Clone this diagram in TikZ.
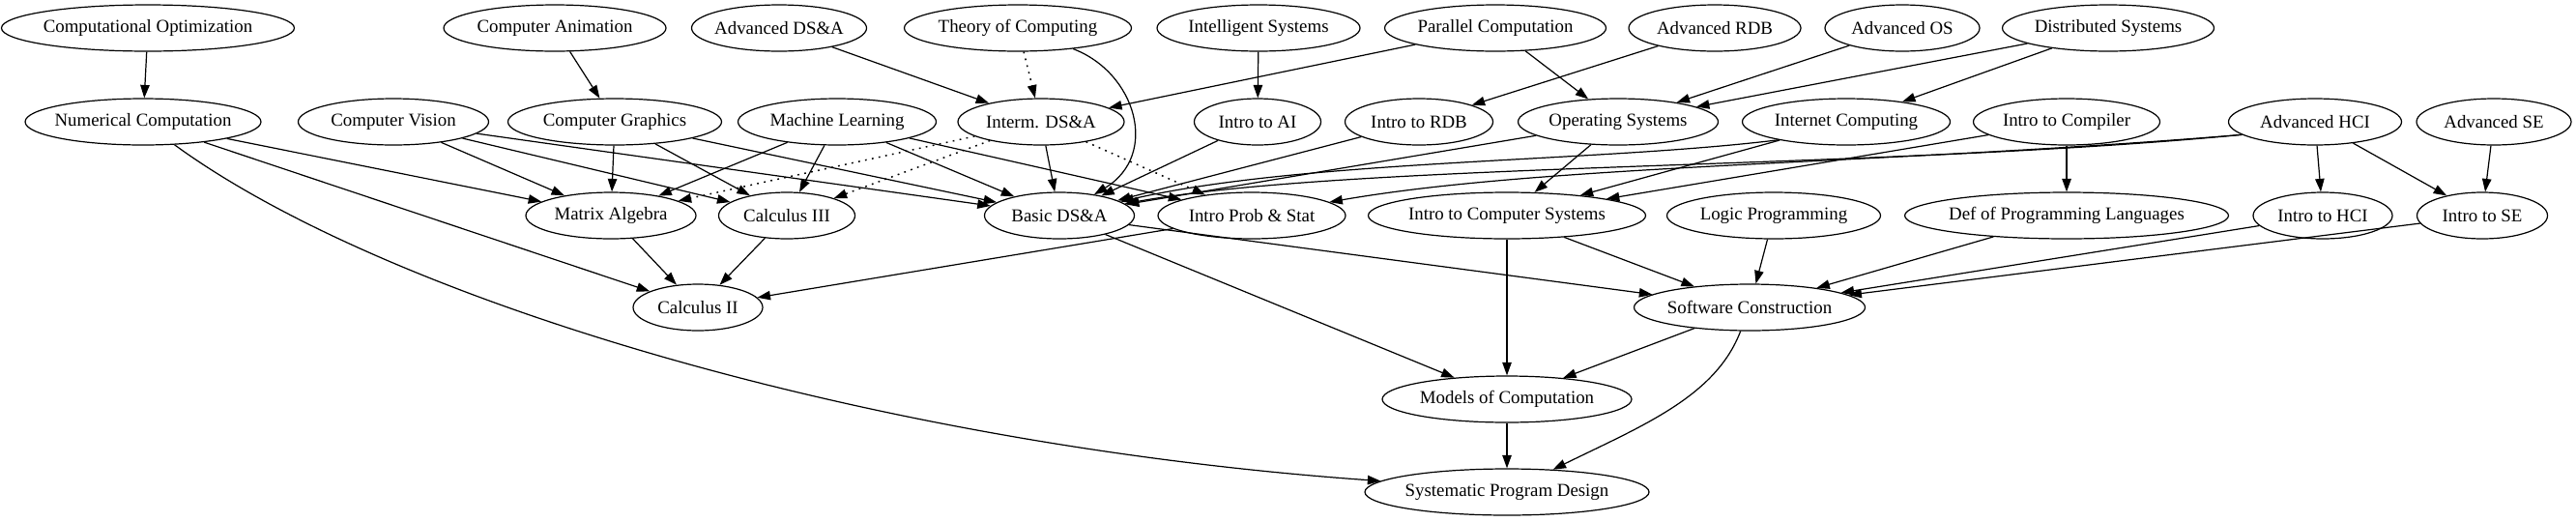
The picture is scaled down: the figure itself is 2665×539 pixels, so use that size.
\documentclass[tikz,border=0pt]{standalone}
\usepackage{fontspec}
\setmainfont{Liberation Serif}
\usetikzlibrary{arrows.meta,shapes.geometric}
\newcommand\ntx[1]{\makebox[0pt][c]{#1}}
\begin{document}
\begin{tikzpicture}[x=0.742pt,y=-0.742pt,
  nd/.style={ellipse,draw,line width=0.9pt,inner sep=0pt,minimum height=35.6pt,font=\fontsize{14}{16}\selectfont},
  wd/.style={minimum width=#1*0.742pt},
  e/.style={line width=0.9pt,-{Triangle[length=10pt,width=7pt]}},
  dt/.style={e,line width=1.1pt,dash pattern=on 1.3pt off 4pt}]
\useasboundingbox (0,0) rectangle (2665,539);
% row 1
\node[nd,wd=303] (co) at (153,29) {\ntx{Computational Optimization}};
\node[nd,wd=230] (ca) at (574,29) {\ntx{Computer Animation}};
\node[nd,wd=181] (ads) at (806,29) {\ntx{Advanced DS\&A}};
\node[nd,wd=235] (toc) at (1053,29) {\ntx{Theory of Computing}};
\node[nd,wd=210] (is) at (1302,29) {\ntx{Intelligent Systems}};
\node[nd,wd=229] (pc) at (1547,29) {\ntx{Parallel Computation}};
\node[nd,wd=178] (ardb) at (1774,29) {\ntx{Advanced RDB}};
\node[nd,wd=160] (aos) at (1968,29) {\ntx{Advanced OS}};
\node[nd,wd=219] (ds) at (2181,29) {\ntx{Distributed Systems}};
% row 2
\node[nd,wd=244] (nc) at (148,126) {\ntx{Numerical Computation}};
\node[nd,wd=197] (cv) at (407,126) {\ntx{Computer Vision}};
\node[nd,wd=221] (cg) at (636,126) {\ntx{Computer Graphics}};
\node[nd,wd=205] (ml) at (866,126) {\ntx{Machine Learning}};
\node[nd,wd=172] (ids) at (1077,126) {\ntx{Interm. DS\&A}};
\node[nd,wd=131] (ai) at (1301,126) {\ntx{Intro to AI}};
\node[nd,wd=153] (rdb) at (1468,126) {\ntx{Intro to RDB}};
\node[nd,wd=207] (os) at (1674,126) {\ntx{Operating Systems}};
\node[nd,wd=215] (ic) at (1910,126) {\ntx{Internet Computing}};
\node[nd,wd=193] (itc) at (2138,126) {\ntx{Intro to Compiler}};
\node[nd,wd=179] (ahci) at (2395,126) {\ntx{Advanced HCI}};
\node[nd,wd=160] (ase) at (2580,126) {\ntx{Advanced SE}};
% row 3
\node[nd,wd=176] (ma) at (632,223) {\ntx{Matrix Algebra}};
\node[nd,wd=141] (c3) at (814,223) {\ntx{Calculus III}};
\node[nd,wd=155] (bds) at (1096,223) {\ntx{Basic DS\&A}};
\node[nd,wd=194] (ips) at (1295,223) {\ntx{Intro Prob \& Stat}};
\node[nd,wd=287] (ics) at (1559,223) {\ntx{Intro to Computer Systems}};
\node[nd,wd=221] (lp) at (1835,223) {\ntx{Logic Programming}};
\node[nd,wd=335] (dpl) at (2138,223) {\ntx{Def of Programming Languages}};
\node[nd,wd=144] (ihci) at (2403,223) {\ntx{Intro to HCI}};
\node[nd,wd=135] (ise) at (2568,223) {\ntx{Intro to SE}};
% row 4-6
\node[nd,wd=134] (c2) at (722,318) {\ntx{Calculus II}};
\node[nd,wd=239] (sc) at (1810,318) {\ntx{Software Construction}};
\node[nd,wd=258] (moc) at (1559,413) {\ntx{Models of Computation}};
\node[nd,wd=294] (spd) at (1559,509) {\ntx{Systematic Program Design}};
% edges
\draw[e] (co) -- (nc);
\draw[e] (ca) -- (cg);
\draw[e] (ads) -- (ids);
\draw[dt] (toc) -- (ids);
\draw[e] (toc) .. controls (1175,75) and (1200,160) .. (bds);
\draw[e] (is) -- (ai);
\draw[e] (pc) -- (ids);
\draw[e] (pc) -- (os);
\draw[e] (ardb) -- (rdb);
\draw[e] (aos) -- (os);
\draw[e] (ds) -- (os);
\draw[e] (ds) -- (ic);
\draw[e] (nc) -- (ma);
\draw[e] (nc) -- (c2);
\draw[e] (nc) .. controls (400,310) and (900,460) .. (spd.175);
\draw[e] (cv) -- (ma);
\draw[e] (cv) -- (c3);
\draw[e] (cv) -- (bds);
\draw[e] (cg) -- (ma);
\draw[e] (cg) -- (c3);
\draw[e] (cg) -- (bds);
\draw[e] (ml) -- (ma);
\draw[e] (ml) -- (c3);
\draw[e] (ml) -- (bds);
\draw[e] (ml) -- (ips);
\draw[dt] (ids) -- (ma);
\draw[dt] (ids) -- (c3);
\draw[e] (ids) -- (bds);
\draw[dt] (ids) -- (ips);
\draw[e] (ai) -- (bds);
\draw[e] (rdb) -- (bds);
\draw[e] (os) -- (bds);
\draw[e] (os) -- (ics);
\draw[e] (ic.195) .. controls (1650,168) and (1350,165) .. (bds);
\draw[e] (ic) -- (ics);
\draw[e] (itc) -- (ics);
\draw[e] (itc) -- (dpl);
\draw[e] (ahci.190) .. controls (1950,175) and (1400,168) .. (bds);
\draw[e] (ahci.190) .. controls (1950,170) and (1600,170) .. (ips);
\draw[e] (ahci) -- (ihci);
\draw[e] (ahci) -- (ise);
\draw[e] (ase) -- (ise);
\draw[e] (ma) -- (c2);
\draw[e] (c3) -- (c2);
\draw[e] (ips) -- (c2);
\draw[e] (bds) -- (moc);
\draw[e] (bds) -- (sc);
\draw[e] (ics) -- (moc);
\draw[e] (ics) -- (sc);
\draw[e] (lp) -- (sc);
\draw[e] (dpl) -- (sc);
\draw[e] (ihci) -- (sc);
\draw[e] (ise) -- (sc);
\draw[e] (sc) -- (moc);
\draw[e] (sc) .. controls (1775,410) and (1700,440) .. (spd);
\draw[e] (moc) -- (spd);
\end{tikzpicture}
\end{document}
